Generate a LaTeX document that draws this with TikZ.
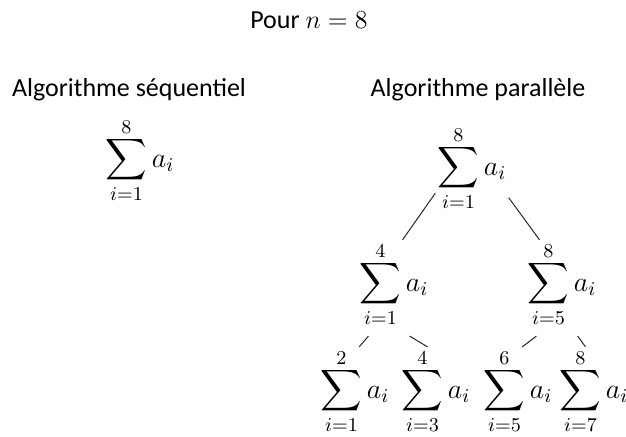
\documentclass[tikz,border=0pt]{standalone}
\usepackage{fix-cm}
\usepackage{amsmath}
\usepackage{fontspec}
\setmainfont{Carlito}
\usepackage{tikz}
\usetikzlibrary{positioning}

\newcommand{\somme}[2]{$\displaystyle\sum_{\raisebox{3pt}[\height][\depth]{$\scriptstyle i=#1$}}^{\raisebox{-2.5pt}[\height][0pt]{$\scriptstyle #2$}} a_i$}

\begin{document}
\begin{tikzpicture}[x=0.5pt, y=-0.5pt,
  titre/.style={font=\fontsize{13}{15}\selectfont, inner sep=0pt},
  sumbox/.style={inner sep=1pt, font=\fontsize{14}{17}\selectfont},
  edge/.style={line width=0.5pt, black!85},
]
\useasboundingbox (0,0) rectangle (626,437);
\node[titre] (pour) at (309,20)  {Pour $n=8$};
\node[titre] (seq)  at (129,90)  {Algorithme séquentiel};
\node[titre] (par)  at (478,90)  {Algorithme parallèle};
\node[sumbox] (S)   at (140,164) {\somme{1}{8}};
\node[sumbox] (R)   at (472,172) {\somme{1}{8}};
\node[sumbox] (L)   at (394,288) {\somme{1}{4}};
\node[sumbox] (D)   at (562,288) {\somme{5}{8}};
\node[sumbox] (LL)  at (355,395) {\somme{1}{2}};
\node[sumbox] (LR)  at (436,395) {\somme{3}{4}};
\node[sumbox] (DL)  at (518,395) {\somme{5}{6}};
\node[sumbox] (DR)  at (594,395) {\somme{7}{8}};
\draw[edge] (R.-150) -- (L.80);
\draw[edge] (R.-35)  -- (D.115);
\draw[edge] (L.-118) -- (LL.85);
\draw[edge] (L.-72)  -- (LR.100);
\draw[edge] (D.-118) -- (DL.85);
\draw[edge] (D.-72)  -- (DR.100);
\end{tikzpicture}
\end{document}
